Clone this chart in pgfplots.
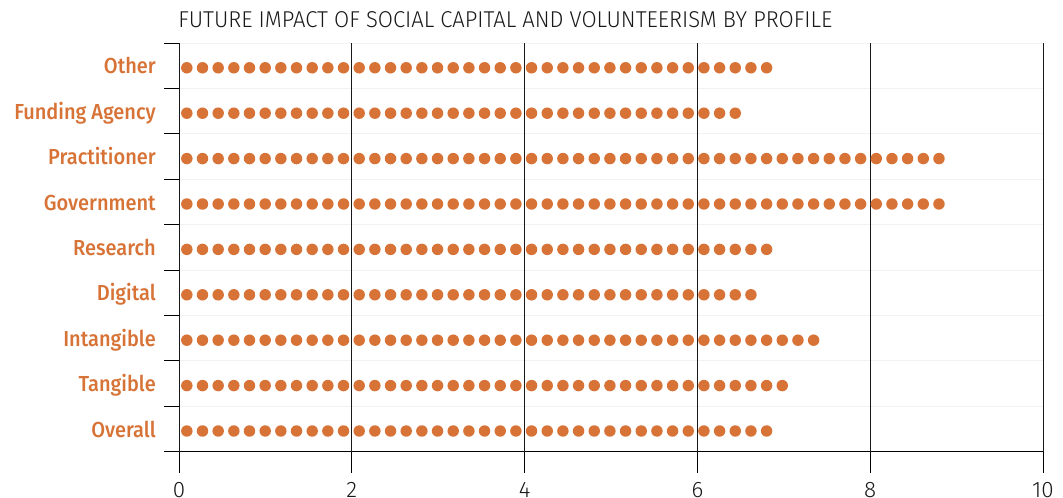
\documentclass[border=0pt]{standalone}
\usepackage{fontspec}
\setmainfont{Fira Sans}
\newfontfamily\lightfont{Fira Sans Light}
\newfontfamily\labfont{Fira Sans Medium}
\usepackage{graphicx}
\usepackage{pgfplots}
\pgfplotsset{compat=1.18}
\definecolor{dotorange}{RGB}{215,115,55}
\newcommand\lab[1]{\scalebox{0.92}[1]{#1}}
\begin{document}
\begin{tikzpicture}
\useasboundingbox (0,0) rectangle (797.25pt,373.5pt);
\node[anchor=base west, inner sep=0pt, text=black!90] at (133.5pt,352.9pt)
  {\resizebox{490.5pt}{\height}{\lightfont\fontsize{17.2pt}{19pt}\selectfont FUTURE IMPACT OF SOCIAL CAPITAL AND VOLUNTEERISM BY PROFILE}};
\begin{axis}[
  at={(134.25pt,34.725pt)}, anchor=south west,
  x=64.8pt, y=34.05pt,
  xmin=0, xmax=10, ymin=-0.5, ymax=8.5,
  axis x line*=bottom, axis y line*=left,
  axis line style={black, line width=0.75pt, -},
  tick align=outside,
  tick style={black, line width=0.75pt},
  major tick length=11.25pt,
  xtick=\empty,
  extra x ticks={0,2,4,6,8,10},
  extra x tick labels={0,2,4,6,8,10},
  extra x tick style={major tick length=15.75pt, grid=major,
    xticklabel style={font=\lightfont\fontsize{16.8pt}{18pt}\selectfont, text=black!90, anchor=north, inner sep=0pt, yshift=-7pt}},
  major x grid style={black!90, line width=0.75pt},
  ytick={-0.5,0.5,...,8.5},
  yticklabels={},
  ymajorgrids,
  major y grid style={black!5, line width=0.75pt},
  extra y ticks={0,1,2,3,4,5,6,7,8},
  extra y tick labels={\lab{Overall},\lab{Tangible},\lab{Intangible},\lab{Digital},\lab{Research},\lab{Government},\lab{Practitioner},\lab{Funding Agency},\lab{Other}},
  extra y tick style={major tick length=0pt, grid=none,
    yticklabel style={font=\labfont\fontsize{16.3pt}{18pt}\selectfont, text=dotorange, anchor=base east, inner sep=0pt, xshift=-17.25pt, yshift=-6.1pt}},
]
\addplot[xcomb, draw=dotorange, line width=8.6pt, line cap=round,
  dash pattern=on 0pt off 11.752pt, dash phase=5.876pt, mark=none, yshift=-1.5pt]
  coordinates {(6.89,0) (7.07,1) (7.44,2) (6.71,3) (6.89,4) (8.89,5) (8.89,6) (6.53,7) (6.89,8)};
\end{axis}
\end{tikzpicture}
\end{document}
